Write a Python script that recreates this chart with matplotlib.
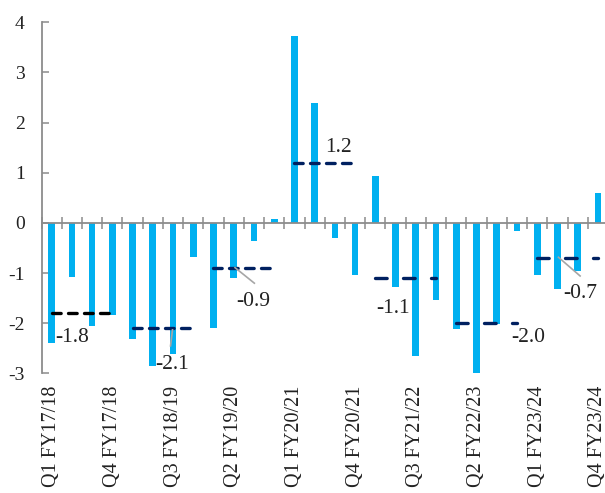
import matplotlib.pyplot as plt
import numpy as np

plt.rcParams["font.family"] = ["Liberation Serif", "DejaVu Serif"]
plt.rcParams["axes.unicode_minus"] = False

# quarterly values, Q1 FY17/18 .. Q4 FY23/24
fiscal_years = ["17/18", "18/19", "19/20", "20/21", "21/22", "22/23", "23/24"]
quarters = [f"Q{q} FY{fy}" for fy in fiscal_years for q in range(1, 5)]
values = [-2.40, -1.07, -2.05, -1.83,
          -2.32, -2.86, -2.62, -0.68,
          -2.10, -1.09, -0.35, 0.08,
          3.73, 2.40, -0.30, -1.03,
          0.94, -1.27, -2.65, -1.54,
          -2.12, -3.04, -2.01, -0.15,
          -1.04, -1.31, -0.95, 0.60]

# fiscal-year averages
year_avg = [-1.8, -2.1, -0.9, 1.2, -1.1, -2.0, -0.7]

bar_color = "#00B0F0"
axis_color = "#8C8C8C"
line_colors = ["black", "#002060", "#002060", "#002060", "#002060", "#002060", "#002060"]
short_dash = (0, (2.6, 2.2))
long_dash = (0, (3.5, 4.9))
line_styles = [short_dash] * 4 + [long_dash] * 3

# label placement (x, y, ha) and optional leader lines
label_pos = [(0.17, -2.29, "left"), (5.1, -2.83, "left"), (9.97, -1.57, "center"),
             (14.17, 1.50, "center"), (16.89, -1.71, "center"),
             (23.56, -2.28, "center"), (26.12, -1.40, "center")]
leaders = {1: ((5.975, 5.877), (-2.13, -2.45)),
           2: ((9.065, 10.02), (-0.89, -1.20)),
           6: ((25.05, 26.12), (-0.683, -1.056))}

fig = plt.figure(figsize=(6.05, 4.93), dpi=100)
ax = fig.add_axes([0.0686, 0.2424, 0.9364, 0.7124])

x = np.arange(len(values))
ax.bar(x, values, width=0.33, color=bar_color, zorder=2)

for i, avg in enumerate(year_avg):
    ax.plot([4 * i, 4 * i + 3], [avg, avg], color=line_colors[i], lw=2.4,
            linestyle=line_styles[i], dash_capstyle="round", zorder=3)
    lx, ly, ha = label_pos[i]
    ax.text(lx, ly, f"{avg:.1f}", fontsize=15.5, ha=ha, va="center",
            color="#222222", zorder=5)
    if i in leaders:
        xs, ys = leaders[i]
        ax.plot(xs, ys, color="#A6A6A6", lw=1.2, zorder=4)

ax.set_xlim(-0.5, len(values) - 0.5)
ax.set_ylim(-3, 4)

# y axis
ax.set_yticks(range(-3, 5))
ax.tick_params(axis="y", direction="in", length=5, width=1.1, color=axis_color,
               pad=12, labelsize=14, labelcolor="#222222")

# x axis through zero with ticks between quarters
ax.spines["bottom"].set_position(("data", 0))
ax.set_xticks(np.arange(-0.5, len(values), 1))
ax.tick_params(axis="x", direction="inout", length=9, width=1.1,
               color=axis_color, labelbottom=False)

for side in ["top", "right"]:
    ax.spines[side].set_visible(False)
for side in ["left", "bottom"]:
    ax.spines[side].set_color(axis_color)
    ax.spines[side].set_linewidth(1.3)
ax.spines["bottom"].set_zorder(2.5)

# quarter labels along the bottom, every third quarter
sec = ax.secondary_xaxis("bottom")
sec.set_xticks(x[::3], labels=quarters[::3], rotation=90)
sec.tick_params(length=0, pad=9, labelsize=14.5, labelcolor="#222222")
sec.spines["bottom"].set_visible(False)

fig.savefig("out.png", dpi=100)
